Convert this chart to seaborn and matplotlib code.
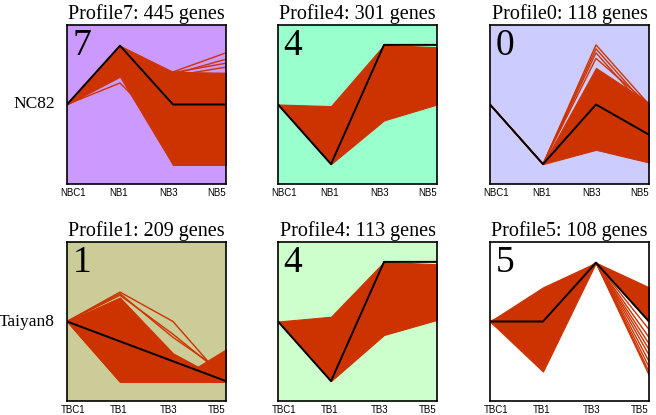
import pandas as pd
import matplotlib
matplotlib.use("Agg")
import matplotlib.pyplot as plt
import seaborn as sns

sns.set_style("white")
plt.rcParams["font.family"] = ["Liberation Serif", "DejaVu Serif"]
plt.rcParams["text.color"] = "black"
plt.rcParams["xtick.color"] = "black"

RED = "#CC3300"

# === datos ===
row_names = ["NC82", "Taiyan8"]
nc82_times = ["NBC1", "NB1", "NB3", "NB5"]
taiyan8_times = ["TBC1", "TB1", "TB3", "TB5"]

profile_ids = ["7", "4", "0", "1", "4", "5"]
gene_counts = [445, 301, 118, 209, 113, 108]
bg_colors = ["#CC99FF", "#99FFCC", "#CCCCFF", "#CCCC99", "#CCFFCC", "#FFFFFF"]

# perfil modelo (linea negra)
model_nc82_p7 = [0, 0.74, 0, 0]
model_nc82_p4 = [0, -0.75, 0.75, 0.75]
model_nc82_p0 = [0, -0.75, 0, -0.38]
model_ty8_p1 = [0, -0.25, -0.5, -0.75]
model_ty8_p4 = [0, -0.75, 0.75, 0.75]
model_ty8_p5 = [0, 0, 0.74, 0]

# zona densa de genes: (minimo, maximo) en cada tiempo
band_nc82_p7 = [([0, 0.35, -0.76, -0.76], [0, 0.74, 0.41, 0.40])]
band_nc82_p4 = [([0, -0.75, -0.2, 0.0], [0, -0.02, 0.75, 0.72])]
band_nc82_p0 = [([0, -0.75, -0.57, -0.73], [0, -0.75, 0.46, 0.02])]
band_ty8_p1 = [([0, -0.76, -0.76, -0.76], [0, 0.30, -0.40, -0.76]),
               ([0, -0.76, -0.76, -0.76], [0, 0.30, -0.76, -0.35])]
band_ty8_p4 = [([0, -0.75, -0.17, 0.02], [0, 0.06, 0.75, 0.72])]
band_ty8_p5 = [([0, -0.63, 0.74, 0.0], [0, 0.43, 0.74, 0.43])]

# genes que salen de la zona densa
genes_nc82_p7 = [[0, 0.55, 0.41, 0.65], [0, 0.60, 0.38, 0.57],
                 [0, 0.50, 0.40, 0.52], [0, 0.45, 0.36, 0.47],
                 [0, 0.27, -0.40, -0.55]]
genes_nc82_p4 = [[0, -0.40, 0.30, 0.20], [0, -0.60, 0.10, 0.35]]
genes_nc82_p0 = [[0, -0.75, 0.75, 0.00], [0, -0.75, 0.70, -0.05],
                 [0, -0.75, 0.65, -0.10], [0, -0.75, 0.58, 0.00]]
genes_ty8_p1 = [[0, 0.37, 0.00, -0.76], [0, 0.33, -0.16, -0.70],
                [0, 0.35, -0.20, -0.66]]
genes_ty8_p4 = [[0, -0.30, 0.40, 0.30], [0, -0.50, 0.20, 0.25]]
genes_ty8_p5 = [[0, 0.20, 0.74, -0.10], [0, -0.10, 0.74, -0.20],
                [0, 0.30, 0.74, -0.28], [0, -0.30, 0.74, -0.35],
                [0, 0.00, 0.74, -0.42], [0, -0.45, 0.74, -0.50],
                [0, 0.10, 0.74, -0.57], [0, -0.55, 0.74, -0.63],
                [0, -0.20, 0.74, -0.67]]

models = [model_nc82_p7, model_nc82_p4, model_nc82_p0,
          model_ty8_p1, model_ty8_p4, model_ty8_p5]
bands = [band_nc82_p7, band_nc82_p4, band_nc82_p0,
         band_ty8_p1, band_ty8_p4, band_ty8_p5]
genes = [genes_nc82_p7, genes_nc82_p4, genes_nc82_p0,
         genes_ty8_p1, genes_ty8_p4, genes_ty8_p5]

# === grafico ===
W, H = 656, 415
fig = plt.figure(figsize=(W / 100, H / 100), dpi=100)

col_left = [67, 278, 490]
row_top = [25, 242]
pw, ph = 159, 159
label_pos = [0.12, 0.98, 1.92, 2.83]

for i in range(6):
    r, c = divmod(i, 3)
    ax = fig.add_axes([col_left[c] / W, 1 - (row_top[r] + ph) / H, pw / W, ph / H])
    ax.set_facecolor(bg_colors[i])
    x = list(range(4))

    for lo, hi in bands[i]:
        ax.fill_between(x, lo, hi, color=RED, lw=0.8, edgecolor=RED)

    rows = []
    for g, vals in enumerate(genes[i]):
        for t, v in enumerate(vals):
            rows.append({"gene": g, "t": t, "v": v})
    df = pd.DataFrame(rows)
    sns.lineplot(data=df, x="t", y="v", units="gene", estimator=None,
                 color=RED, lw=1.0, ax=ax)
    sns.lineplot(x=x, y=models[i], color="black", lw=1.4, ax=ax)

    ax.set_xlim(0, 3)
    ax.set_ylim(-1, 1)
    ax.set_yticks([])
    times = nc82_times if r == 0 else taiyan8_times
    ax.set_xticks(label_pos)
    ax.set_xticklabels(times, fontsize=7, family=["Liberation Sans", "DejaVu Sans"])
    ax.tick_params(axis="x", length=0, pad=3)
    ax.set_xlabel("")
    ax.set_ylabel("")
    for s in ax.spines.values():
        s.set_color("black")
        s.set_linewidth(1.2)
    ax.set_title(f"Profile{profile_ids[i]}: {gene_counts[i]} genes",
                 fontsize=14.5, pad=4)
    ax.text(0.035, 0.975, profile_ids[i], transform=ax.transAxes,
            ha="left", va="top", fontsize=27)

for r, name in enumerate(row_names):
    yc = row_top[r] + ph / 2
    fig.text(55 / W, 1 - yc / H, name, ha="right", va="center", fontsize=12.5)

fig.savefig("out.png", dpi=100)
